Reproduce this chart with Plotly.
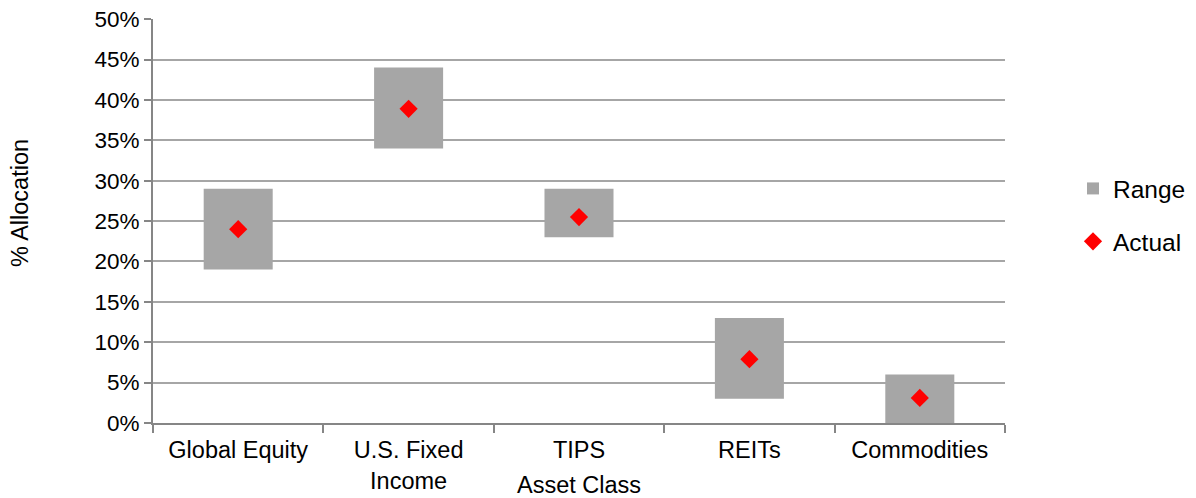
import plotly.graph_objects as go

categories = ["Global Equity", "U.S. Fixed<br>Income", "TIPS", "REITs", "Commodities"]
range_low = [19, 34, 23, 3, 0]
range_high = [29, 44, 29, 13, 6]
actual = [24.0, 38.9, 25.5, 7.9, 3.1]
y_ticks = [0, 5, 10, 15, 20, 25, 30, 35, 40, 45, 50]
y_tick_text = [f"{v}%" for v in y_ticks]

FONT = "Liberation Sans, Arial, sans-serif"

fig = go.Figure()
fig.add_trace(go.Bar(
    x=categories,
    y=[h - l for h, l in zip(range_high, range_low)],
    base=range_low,
    width=0.405,
    marker=dict(color="#A6A6A6", line=dict(width=0)),
    name="Range",
    legendgroup="a",
))
fig.add_trace(go.Scatter(
    x=categories,
    y=actual,
    mode="markers",
    marker=dict(symbol="diamond", size=14, color="#FF0000", line=dict(width=0)),
    name="Actual",
    legendgroup="b",
))

PLOT_W = 852
PLOT_H = 404
ML, MT = 145, 11
W, H = 1188, 490

fig.update_layout(
    width=W,
    height=H,
    margin=dict(l=ML, r=W - ML - PLOT_W, t=MT, b=H - MT - PLOT_H, autoexpand=False),
    paper_bgcolor="white",
    plot_bgcolor="white",
    font=dict(family=FONT, size=23, color="#000000"),
    showlegend=True,
    legend=dict(
        x=(1073 - 8 - ML) / PLOT_W, y=1 - (215 - 8 - MT) / PLOT_H, xanchor="left", yanchor="middle",
        font=dict(family=FONT, size=24.5, color="#000000"),
        traceorder="grouped",
        tracegroupgap=18,
        itemwidth=30,
        bgcolor="rgba(0,0,0,0)",
    ),
    xaxis=dict(
        type="category",
        automargin=False,
        showline=True, linecolor="#868686", linewidth=2,
        ticks="outside", tickson="boundaries", ticklen=8, tickcolor="#868686", tickwidth=2,
        showgrid=False,
        ticklabelstandoff=5,
        tickfont=dict(family=FONT, size=23.5),
        range=[-0.5, 4.5],
    ),
    yaxis=dict(
        range=[0, 50.02],
        automargin=False,
        tickvals=y_ticks,
        ticktext=y_tick_text,
        ticklabeloverflow="allow",
        showline=True, linecolor="#868686", linewidth=2,
        ticks="outside", ticklen=7, tickcolor="#868686", tickwidth=2,
        showgrid=True, gridcolor="#A6A6A6", gridwidth=2,
        zeroline=False,
        tickfont=dict(family=FONT, size=22.5),
    ),
    annotations=[
        dict(text="Asset Class", xref="paper", yref="paper", x=0.5, y=-62 / PLOT_H,
             xanchor="center", yanchor="middle", showarrow=False,
             font=dict(family=FONT, size=23.5)),
        dict(text="% Allocation", xref="paper", yref="paper", x=(20 - 8 - ML) / PLOT_W,
             y=1 - (203 - 8 - MT) / PLOT_H,
             xanchor="center", yanchor="middle", textangle=-90, showarrow=False,
             font=dict(family=FONT, size=23.5)),
    ],
)

fig.write_html("out.html")
